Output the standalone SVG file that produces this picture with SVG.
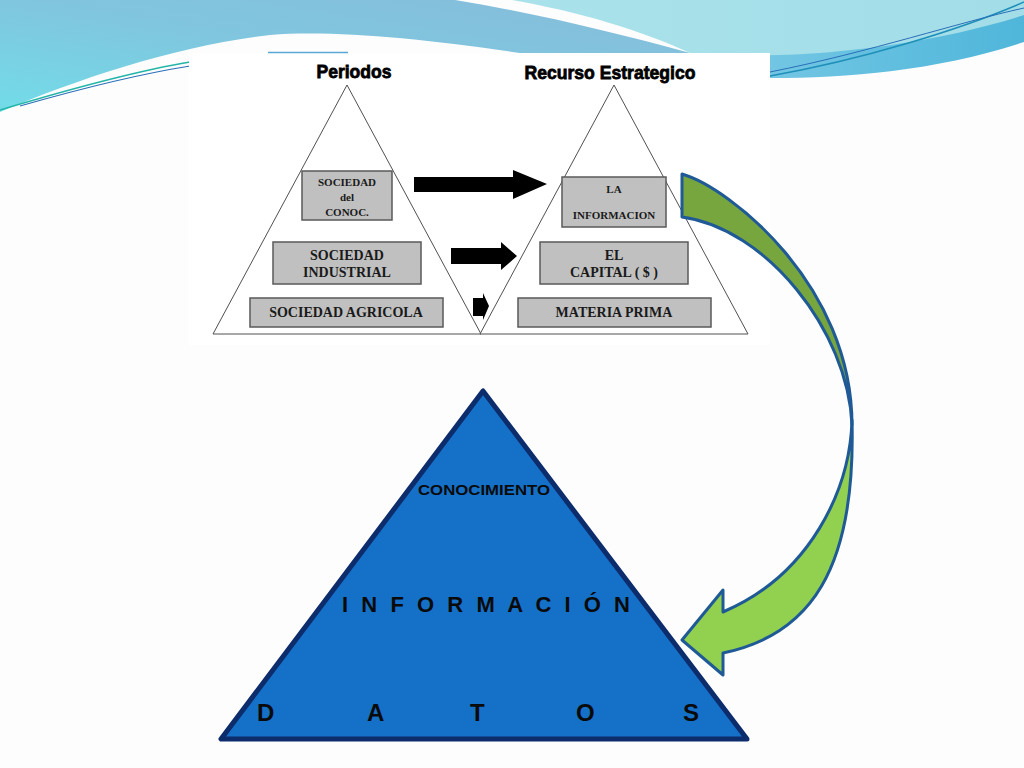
<svg xmlns="http://www.w3.org/2000/svg" width="1024" height="768" viewBox="0 0 1024 768">
<defs>
<linearGradient id="gBlue" x1="0" y1="1" x2="1" y2="0">
<stop offset="0" stop-color="#72DCE8"/>
<stop offset="0.5" stop-color="#80C6DE"/>
<stop offset="1" stop-color="#86BCDB"/>
</linearGradient>
<linearGradient id="gCyan" x1="0" y1="0" x2="1" y2="0">
<stop offset="0" stop-color="#A9E2EA"/>
<stop offset="1" stop-color="#A3DDE8"/>
</linearGradient>
<linearGradient id="gBand" x1="0" y1="0" x2="1" y2="0">
<stop offset="0" stop-color="#7DCBE6"/>
<stop offset="1" stop-color="#4FB6DA"/>
</linearGradient>
</defs>
<style>
.tri{fill:#ffffff;stroke:#505050;stroke-width:1}
.box{fill:#C0C0C0;stroke:#5A5A5A;stroke-width:1.5}
.bt{font-family:"Liberation Sans",Arial,sans-serif;font-weight:bold;fill:#000;stroke:#000;stroke-width:0.8}
.hd{font-family:"Liberation Sans",Arial,sans-serif;font-weight:bold;fill:#000;stroke:#000;stroke-width:0.8}
.bt{font-family:"Liberation Serif","Times New Roman",serif;font-weight:bold;fill:#1a1a1a;stroke:none;text-anchor:middle}
.blk{fill:#000}
.pt{font-family:"Liberation Sans",Arial,sans-serif;font-weight:bold;fill:#0a0a0a}
.arr{stroke:#1F5A96;stroke-width:3;stroke-linejoin:round}
</style>
<rect width="1024" height="768" fill="#FDFDFD"/>
<g id="background">
<path d="M0,0 L455,0 C 540,14 620,34 690,53 L 520,53 C 420,38 330,30 270,35 C 180,45 80,78 0,112 Z" fill="url(#gBlue)"/>
<path d="M512,0 L1024,0 L1024,22 C 940,55 850,62 770,62 L 690,53 C 640,30 580,12 512,0 Z" fill="url(#gCyan)"/>
<path d="M690,53 C 800,62 930,45 1024,15 L1024,42 C 940,70 850,78 770,78 Z" fill="url(#gBand)"/>
<path d="M0,110 C 60,92 130,72 190,62" fill="none" stroke="#22B5A8" stroke-width="1.5"/>
<path d="M20,106 C 90,86 140,74 190,66" fill="none" stroke="#2A6FB8" stroke-width="1.2"/>
<path d="M770,76 C 860,60 960,30 1024,2" fill="none" stroke="#1E8FB8" stroke-width="1.5"/>
<path d="M770,72 C 870,52 960,22 1024,8" fill="none" stroke="#2A6FB8" stroke-width="1"/>
</g>
<g id="panel">
<rect x="189" y="53" width="581" height="292" fill="#ffffff"/>
<line x1="268" y1="52.5" x2="348" y2="52.5" stroke="#5AA8D6" stroke-width="1.5"/>
<text class="hd" x="354" y="78" font-size="19" text-anchor="middle" textLength="75" lengthAdjust="spacingAndGlyphs">Periodos</text>
<text class="hd" x="610" y="79" font-size="19" text-anchor="middle" textLength="171" lengthAdjust="spacingAndGlyphs">Recurso Estrategico</text>
</g>
<g id="tri-periodos">
<polygon class="tri" points="347,85 213,334 481,334"/>
</g>
<g id="tri-recurso">
<polygon class="tri" points="614,85 480,334 748,334"/>
</g>
<g id="box-conoc">
<rect class="box" x="302" y="171" width="90" height="49"/>
<text class="bt" font-size="11"><tspan x="347" y="186">SOCIEDAD</tspan><tspan x="347" y="201">del</tspan><tspan x="347" y="216">CONOC.</tspan></text>
</g>
<g id="box-industrial">
<rect class="box" x="273" y="242" width="148" height="42"/>
<text class="bt" font-size="14"><tspan x="347" y="260">SOCIEDAD</tspan><tspan x="347" y="277">INDUSTRIAL</tspan></text>
</g>
<g id="box-agricola">
<rect class="box" x="250" y="298" width="193" height="29"/>
<text class="bt" font-size="14" x="346" y="317">SOCIEDAD AGRICOLA</text>
</g>
<g id="box-informacion">
<rect class="box" x="562" y="177" width="104" height="50"/>
<text class="bt" font-size="11"><tspan x="614" y="193">LA</tspan><tspan x="614" y="219">INFORMACION</tspan></text>
</g>
<g id="box-capital">
<rect class="box" x="540" y="242" width="148" height="42"/>
<text class="bt" font-size="14"><tspan x="614" y="260">EL</tspan><tspan x="614" y="277">CAPITAL ( $ )</tspan></text>
</g>
<g id="box-materia">
<rect class="box" x="518" y="298" width="193" height="29"/>
<text class="bt" font-size="14" x="614" y="317">MATERIA PRIMA</text>
</g>
<g id="piramide">
<polygon points="483,391 221,739 747,739" fill="#1570C8" stroke="#0C2C6C" stroke-width="5" stroke-linejoin="round"/>
<text class="pt" x="484" y="495" font-size="15" text-anchor="middle" textLength="132" lengthAdjust="spacingAndGlyphs">CONOCIMIENTO</text>
<text class="pt" x="342" y="612" font-size="22" textLength="288" lengthAdjust="spacing">I N F O R M A C I Ó N</text>
<text class="pt" font-size="24" y="721"><tspan x="257">D</tspan><tspan x="367">A</tspan><tspan x="470">T</tspan><tspan x="576">O</tspan><tspan x="683">S</tspan></text>
</g>
<g id="connectors">
<polygon class="blk" points="414,177 513,177 513,170 547,184 513,199 513,192 414,192"/>
<polygon class="blk" points="451,248 501,248 501,242 517,256 501,270 501,264 451,264"/>
<polygon class="blk" points="473,298 483,298 483,293 489,306 483,320 483,316 473,316"/>
<path class="arr" d="M682,174 C 730,188 852,285 852,425 C 848,330 765,228 682,217 Z" fill="#77A63F"/>
<path class="arr" d="M852,420 C 850,490 810,575 723,612 L 723,590 L 682,640 L 723,675 L 723,653 C 810,635 856,570 852,420 Z" fill="#92D050"/>
</g>
</svg>
